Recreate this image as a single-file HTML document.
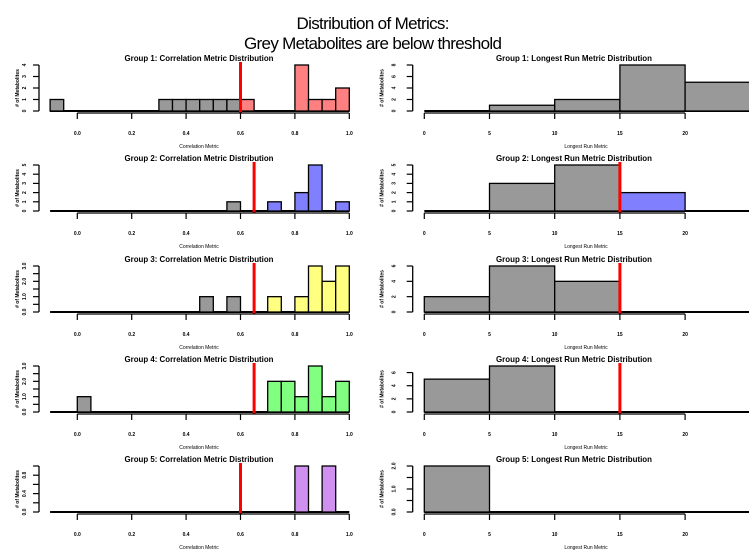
<!DOCTYPE html>
<html><head><meta charset="utf-8"><style>
body{margin:0;background:#fff;}
svg{display:block;font-family:"Liberation Sans",sans-serif;}
</style></head><body>
<svg id="c" width="749" height="552" viewBox="0 0 749 552">
<text x="373" y="29" text-anchor="middle" font-size="17" textLength="153">Distribution of Metrics:</text>
<text x="373" y="49" text-anchor="middle" font-size="17" textLength="258">Grey Metabolites are below threshold</text>
</svg>
<script>
// Correlation histograms: bin starts (width 0.05) and counts
const corrBins1=[-0.1,0.3,0.35,0.4,0.45,0.5,0.55,0.6,0.8,0.85,0.9,0.95];
const corrCounts1=[1,1,1,1,1,1,1,1,4,1,1,2];
const corrBins2=[0.55,0.7,0.8,0.85,0.95];
const corrCounts2=[1,1,2,5,1];
const corrBins3=[0.45,0.55,0.7,0.8,0.85,0.9,0.95];
const corrCounts3=[1,1,1,1,3,2,3];
const corrBins4=[0.0,0.7,0.75,0.8,0.85,0.9,0.95];
const corrCounts4=[1,2,2,1,3,1,2];
const corrBins5=[0.8,0.9];
const corrCounts5=[1,1];
const corrThresholds=[0.6,0.65,0.65,0.65,0.6];
const corrYMax=[4,5,3,3,1];
// Longest run histograms: bin starts (width 5) and counts
const runBins1=[0,5,10,15,20];
const runCounts1=[0,1,2,8,5];
const runBins2=[5,10,15];
const runCounts2=[3,5,2];
const runBins3=[0,5,10];
const runCounts3=[2,6,4];
const runBins4=[0,5];
const runCounts4=[5,7];
const runBins5=[0];
const runCounts5=[2];
const runThresholds=[null,15,15,15,null];
const runYMax=[8,5,6,7,2];
const groupColors=['#ff8080','#8080ff','#ffff80','#80ff80','#d090f0'];
const corrTickLabels=['0.0','0.2','0.4','0.6','0.8','1.0'];
const runTickLabels=['0','5','10','15','20'];

const NS='http://www.w3.org/2000/svg';
const svg=document.getElementById('c');
function mk(tag,attrs,parent){const e=document.createElementNS(NS,tag);for(const k in attrs)e.setAttribute(k,attrs[k]);(parent||svg).appendChild(e);return e;}
const rowOff=[0,100,201,301,401];
const corrBins=[corrBins1,corrBins2,corrBins3,corrBins4,corrBins5];
const corrCounts=[corrCounts1,corrCounts2,corrCounts3,corrCounts4,corrCounts5];
const runBins=[runBins1,runBins2,runBins3,runBins4,runBins5];
const runCounts=[runCounts1,runCounts2,runCounts3,runCounts4,runCounts5];
function yTicks(ymax){
  if(ymax<=1) return {step:0.2,lab:[0,0.4,0.8],fmt:1};
  if(ymax<=3) return {step:0.5,lab:[0,1,2,3].filter(v=>v<=ymax),fmt:1};
  if(ymax<=5) return {step:1,lab:[0,1,2,3,4,5].filter(v=>v<=ymax),fmt:0};
  return {step:2,lab:[0,2,4,6,8].filter(v=>v<=ymax),fmt:0};
}
function panel(g,side){
  const off=rowOff[g];
  const top=65+off, bot=111+off;
  const left=side==='L';
  const x = left ? (v=>77.3+(v)*272) : (v=>424.3+v*13.04);
  const ymaxTick = left?corrYMax[g]:runYMax[g];
  const yt=yTicks(ymaxTick);
  const ymaxAxis = left?corrYMax[g]:(g===3?7:runYMax[g]);
  const y = v=>bot-(v/ymaxAxis)*(bot-top);
  const grp=mk('g',{});
  
  
  const t=mk('text',{x:left?199:574,y:61+off,'text-anchor':'middle','font-size':'8.5','font-weight':'bold',textLength:left?149:156,lengthAdjust:'spacingAndGlyphs'},grp);
  t.textContent='Group '+(g+1)+': '+(left?'Correlation':'Longest Run')+' Metric Distribution';
  
  
  const bins=left?corrBins[g]:runBins[g], counts=left?corrCounts[g]:runCounts[g];
  const w=left?0.05:5;
  const thr=left?corrThresholds[g]:runThresholds[g];
  const bl=mk('line',{x1:left?x(-0.1):x(0),x2:left?x(1):749,y1:bot,y2:bot,stroke:'#000','stroke-width':2},grp);
  
  
  bins.forEach((b,i)=>{
    const below = thr===null ? true : b+w/2<thr;
    const r=mk('rect',{x:x(b),y:y(counts[i]),width:x(b+w)-x(b),height:bot-y(counts[i]),fill:below?'#999999':groupColors[g],stroke:'#000','stroke-width':1.3},grp);
    
    
  });
  if(thr!==null){
    const tl=mk('line',{x1:x(thr),x2:x(thr),y1:top-3,y2:bot+2,stroke:'#ff0000','stroke-width':3},grp);
    
    
  }
  const ax=left?39:412.7;
  const lastTick=Math.floor(ymaxTick/yt.step+1e-9)*yt.step;
  const ya=mk('line',{x1:ax,x2:ax,y1:y(lastTick),y2:bot,stroke:'#000','stroke-width':1.3},grp);
  
  
  for(let v=0;v<=ymaxTick+1e-9;v+=yt.step){
    mk('line',{x1:ax-6,x2:ax,y1:y(v),y2:y(v),stroke:'#000','stroke-width':1.2},grp);
  }
  const lx=left?ax-13:ax-17;
  yt.lab.forEach(v=>{
    const tx=mk('text',{x:lx,y:y(v),'font-size':'5','font-weight':'bold','text-anchor':'middle',transform:'rotate(-90 '+lx+' '+y(v)+')'},grp);
    tx.textContent=yt.fmt?v.toFixed(1):String(v);
    
    
  });
  const tlx=left?ax-20:ax-29;
  const yl=mk('text',{x:tlx,y:(top+bot)/2,'font-size':'5','font-weight':'bold','text-anchor':'middle',transform:'rotate(-90 '+tlx+' '+(top+bot)/2+')'},grp);
  yl.textContent='# of Metabolites';
  
  
  const xa=mk('line',{x1:x(0),x2:left?x(1):x(20),y1:bot+2,y2:bot+2,stroke:'#000','stroke-width':1.3},grp);
  
  
  const labs=left?corrTickLabels:runTickLabels;
  labs.forEach(l=>{
    const v=parseFloat(l);
    mk('line',{x1:x(v),x2:x(v),y1:bot+2,y2:bot+8,stroke:'#000','stroke-width':1.2},grp);
    const tx=mk('text',{x:x(v),y:bot+24,'font-size':'5','font-weight':'bold','text-anchor':'middle'},grp);
    tx.textContent=l;
    
    
  });
  const xl=mk('text',{x:left?199:586,y:bot+37,'font-size':'5','text-anchor':'middle'},grp);
  xl.textContent=left?'Correlation Metric':'Longest Run Metric';
  
  
}
for(let g=0;g<5;g++){panel(g,'L');panel(g,'R');}
</script>
</body></html>
